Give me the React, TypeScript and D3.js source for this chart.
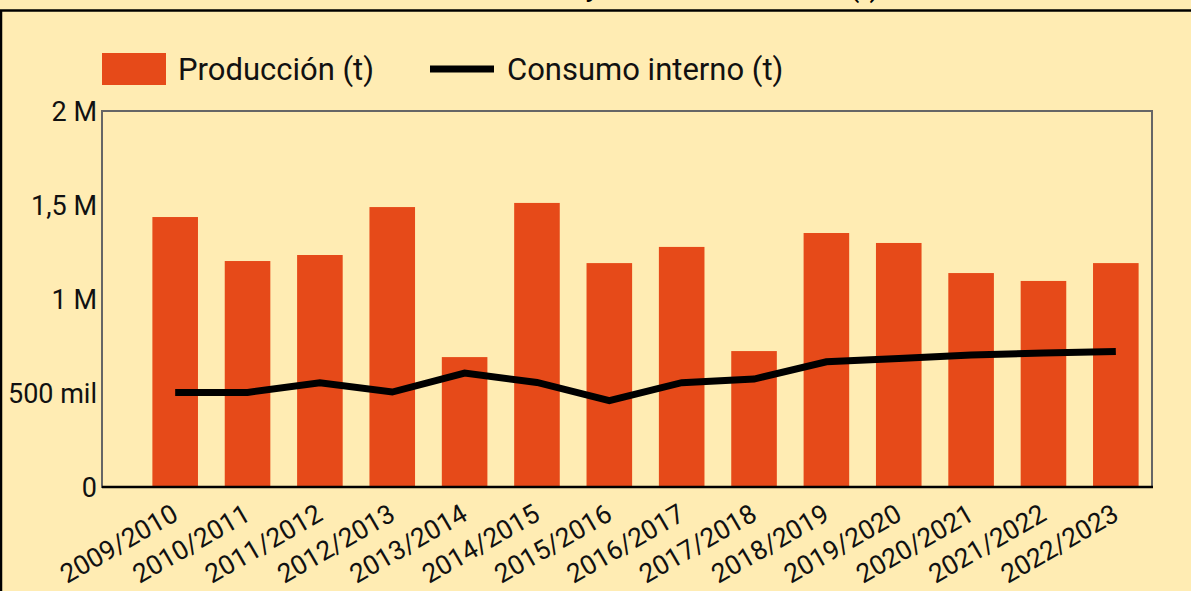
import React from "react";
import * as d3 from "d3";

// Campañas y valores (toneladas)
const campanias = [
  "2009/2010", "2010/2011", "2011/2012", "2012/2013", "2013/2014", "2014/2015", "2015/2016",
  "2016/2017", "2017/2018", "2018/2019", "2019/2020", "2020/2021", "2021/2022", "2022/2023",
];
const produccion = [
  1436000, 1202000, 1234000, 1489000, 691000, 1511000, 1191000,
  1277000, 723000, 1351000, 1298000, 1138000, 1096000, 1191000,
];
const consumoInterno = [
  503000, 503000, 555000, 505000, 606000, 556000, 459000,
  555000, 574000, 666000, 684000, 702000, 713000, 721000,
];
const yTicks = [0, 500000, 1000000, 1500000, 2000000];
const yTickLabels = ["0", "500 mil", "1 M", "1,5 M", "2 M"];

const W = 1191;
const H = 591;
const BG = "#FFECB3";
const ORANGE = "#E64A19";
const FONT = "Roboto, 'Noto Sans', sans-serif";

export default function App() {
  // area del grafico
  const left = 102, right = 1152, top = 111, bottom = 487;

  const x = d3.scaleBand<string>()
    .domain(campanias)
    .range([139, right])
    .paddingInner(0.37)
    .paddingOuter(0.185);
  const y = d3.scaleLinear().domain([0, 2000000]).range([bottom, top]);

  const linea = d3.line<number>()
    .x((_, i) => (x(campanias[i]) as number) + x.bandwidth() / 2)
    .y((d) => y(d));

  return (
    <svg width={W} height={H} style={{ position: "absolute", left: 0, top: 0 }} fontFamily={FONT}>
      <rect x={0} y={0} width={W} height={H} fill={BG} />
      {/* titulo, cortado arriba como en el original */}
      <text x={421} y={-4} fontSize={31} fill="#000">Producción y consumo interno (t)</text>
      <rect x={1} y={10.5} width={W + 20} height={H + 20} fill="none" stroke="#000" strokeWidth={2.5} />

      {/* leyenda */}
      <rect x={102} y={53} width={64} height={32} fill={ORANGE} />
      <text x={178} y={80} fontSize={31} fill="#111">Producción (t)</text>
      <line x1={430} x2={494} y1={69} y2={69} stroke="#000" strokeWidth={7} />
      <text x={507} y={80} fontSize={31} fill="#111">Consumo interno (t)</text>

      {/* marco del area */}
      <rect x={left} y={top} width={right - left} height={bottom - top} fill="none" stroke="#666" strokeWidth={2} />

      {/* barras */}
      {campanias.map((c, i) => (
        <rect key={c} x={x(c)} y={y(produccion[i])} width={x.bandwidth()}
          height={bottom - y(produccion[i])} fill={ORANGE} />
      ))}

      {/* linea de consumo */}
      <path d={linea(consumoInterno) || ""} fill="none" stroke="#000" strokeWidth={7} strokeLinejoin="miter" />

      {/* eje x */}
      <line x1={left} x2={right + 1} y1={bottom} y2={bottom} stroke="#000" strokeWidth={2.5} />

      {/* etiquetas eje y */}
      {yTicks.map((t, i) => (
        <text key={t} x={97} y={y(t) + 9.5} textAnchor="end" fontSize={27} fill="#111">{yTickLabels[i]}</text>
      ))}

      {/* etiquetas eje x */}
      {campanias.map((c) => (
        <text key={c} transform={`translate(${(x(c) as number) + x.bandwidth() / 2},${bottom}) rotate(-30)`}
          x={-12} y={30} textAnchor="end" fontSize={26.5} fill="#111">{c}</text>
      ))}
    </svg>
  );
}
